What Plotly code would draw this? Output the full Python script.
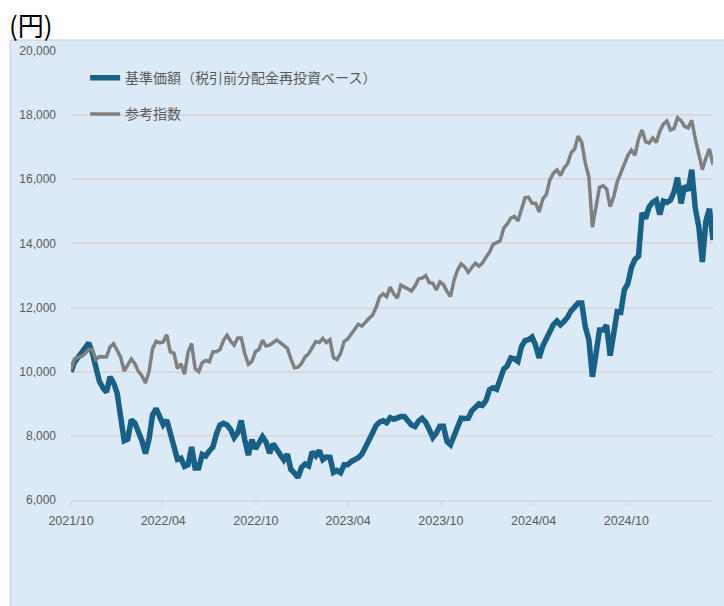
import pandas as pd
import plotly.graph_objects as go

# Weekly observation dates (categories)
dates = pd.date_range("2021-10-01", periods=182, freq="7D")

# 基準価額（税引前分配金再投資ベース）
nav = [
    10000, 10300, 10450, 10620, 10780, 10900, 10600, 10150, 9700, 9500,
    9360, 9840, 9650, 9340, 8600, 7850, 7900, 8500, 8400, 8130,
    7850, 7450, 7900, 8650, 8850, 8600, 8350, 8490, 8050, 7650,
    7270, 7300, 7050, 7100, 7650, 7000, 7000, 7420, 7370, 7530,
    7650, 8060, 8340, 8390, 8340, 8200, 7950, 8100, 8480, 7870,
    7400, 7880, 7600, 7780, 7970, 7800, 7460, 7750, 7560, 7450,
    7250, 7430, 6950, 6840, 6700, 7020, 7120, 7060, 7500, 7380,
    7540, 7260, 7340, 7330, 6860, 6920, 6850, 7100, 7100, 7200,
    7250, 7320, 7430, 7700, 7860, 8090, 8320, 8430, 8470, 8410,
    8570, 8520, 8570, 8600, 8600, 8460, 8340, 8290, 8460, 8550,
    8420, 8200, 7950, 8090, 8300, 8300, 7820, 7720, 7980, 8250,
    8550, 8540, 8550, 8780, 8920, 9000, 8950, 9100, 9440, 9500,
    9450, 9750, 10080, 10180, 10430, 10400, 10320, 10780, 10970, 11000,
    11080, 10820, 10430, 10800, 11000, 11240, 11470, 11580, 11460, 11570,
    11700, 11900, 12050, 12140, 12140, 11400, 11000, 9840, 10550, 11300,
    11300, 11450, 10500, 11350, 11870, 11850, 12550, 12750, 13250, 13500,
    13600, 14950, 14780, 15140, 15280, 15350, 14900, 15320, 15280, 15350,
    15600, 16050, 15250, 15800, 15650, 16300, 15100, 14520, 13420, 14700,
    15080, 14110,
]

# 参考指数
ref_index = [
    10060, 10400, 10450, 10480, 10570, 10690, 10700, 10380, 10470, 10460,
    10460, 10770, 10870, 10670, 10450, 10020, 10200, 10400, 10250, 10010,
    9870, 9650, 10000, 10720, 10950, 10900, 10930, 11150, 10620, 10580,
    10100, 10250, 9920, 10600, 10880, 10100, 10000, 10280, 10350, 10310,
    10620, 10620, 10690, 10980, 11140, 10950, 10830, 11050, 11050, 10570,
    10230, 10320, 10620, 10700, 10980, 10800, 10830, 10910, 10990, 10910,
    10810, 10730, 10400, 10120, 10140, 10260, 10460, 10560, 10750, 10940,
    10910, 11040, 10910, 11000, 10440, 10380, 10570, 10940, 11020, 11180,
    11350, 11480, 11420, 11560, 11660, 11760, 12000, 12330, 12430, 12340,
    12640, 12420, 12300, 12700, 12650, 12600, 12520, 12670, 12900, 12920,
    13000, 12780, 12760, 12550, 12800, 12720, 12500, 12350, 12850, 13180,
    13360, 13270, 13100, 13250, 13380, 13290, 13390, 13570, 13720, 13970,
    14030, 14080, 14480, 14610, 14790, 14840, 14700, 15100, 15420, 15440,
    15250, 15250, 14980, 15380, 15520, 15980, 16190, 16290, 16120, 16350,
    16490, 16820, 16950, 17350, 17150, 16500, 16080, 14510, 15150, 15750,
    15800, 15700, 15150, 15450, 15920, 16200, 16420, 16750, 16910, 16750,
    17250, 17540, 17170, 17130, 17290, 17150, 17500, 17720, 17820, 17540,
    17580, 17920, 17830, 17650, 17600, 17840, 17270, 16830, 16300, 16660,
    16950, 16450,
]

series_names = ["基準価額（税引前分配金再投資ベース）", "参考指数"]
tick_dates = ["2021-10-01", "2022-04-01", "2022-10-01", "2023-04-01",
              "2023-10-01", "2024-04-01", "2024-10-01"]
tick_labels = ["2021/10", "2022/04", "2022/10", "2023/04",
               "2023/10", "2024/04", "2024/10"]
y_ticks = [6000, 8000, 10000, 12000, 14000, 16000, 18000, 20000]

BG = "#dce9f6"
TXT = "#595959"
GRID = "#d9d9d9"

fig = go.Figure()
fig.add_trace(go.Scatter(
    x=dates, y=nav, mode="lines", name=series_names[0],
    line=dict(color="#186085", width=5.5), legendgroup="a",
))
fig.add_trace(go.Scatter(
    x=dates, y=ref_index, mode="lines", name=series_names[1],
    line=dict(color="#808080", width=3.5), legendgroup="b",
))

fig.update_layout(
    width=724, height=606,
    margin=dict(l=71, r=11, t=51, b=106),
    paper_bgcolor="white",
    plot_bgcolor=BG,
    showlegend=True,
    legend=dict(
        x=0.022, y=0.975, xanchor="left", yanchor="top",
        bgcolor="rgba(0,0,0,0)", traceorder="grouped", tracegroupgap=15,
        font=dict(family="Noto Sans CJK JP", size=14, color=TXT),
        itemwidth=30,
    ),
    shapes=[dict(
        type="rect", xref="paper", yref="paper",
        x0=-0.095, x1=1.03, y0=-0.26, y1=1.0245,
        fillcolor=BG, line=dict(color="#c9cdd2", width=1), layer="below",
    )],
    annotations=[dict(
        text="(円)", xref="paper", yref="paper",
        x=-0.1, y=1.058, xanchor="left", yanchor="middle",
        showarrow=False,
        font=dict(family="Noto Sans CJK JP", size=26, color="#000000"),
    )],
)

fig.update_xaxes(
    type="date",
    range=[dates[0], dates[-1]],
    tickvals=tick_dates, ticktext=tick_labels,
    showgrid=False, zeroline=False,
    showline=True, linecolor=GRID, linewidth=1.5,
    ticks="outside", ticklen=4, tickcolor=GRID, tickwidth=1.5,
    ticklabelstandoff=4,
    tickfont=dict(family="Liberation Sans", size=12.5, color=TXT),
)
fig.update_yaxes(
    range=[6000, 20000],
    tickvals=y_ticks, tickformat=",",
    showgrid=True, gridcolor=GRID, gridwidth=1.5,
    zeroline=False, showline=False,
    ticks="", ticklabelstandoff=14,
    tickfont=dict(family="Liberation Sans", size=12, color=TXT),
)

fig.write_html("out.html")
